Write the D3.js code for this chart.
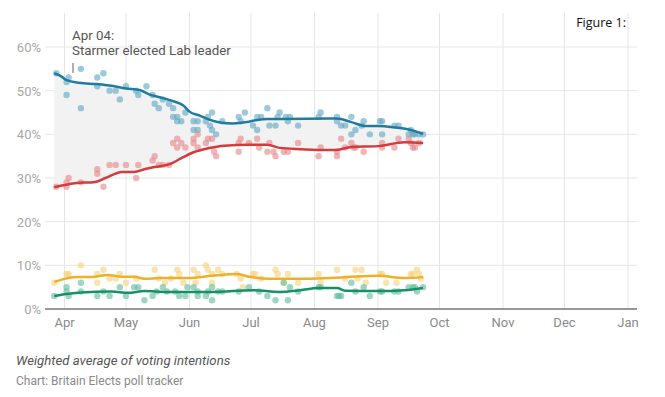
<!DOCTYPE html>
<html>
<head>
<meta charset="utf-8">
<script src="https://cdn.jsdelivr.net/npm/d3@7"></script>
<style>
  body { margin: 0; background: #fff; }
  svg { display: block; font-family: Roboto, "Noto Sans", sans-serif; }
</style>
</head>
<body>
<div id="chart"></div>
<script>
// poll results, [date, %]
var conPolls = [
  ["2020-03-28", 54], ["2020-04-02", 52], ["2020-04-03", 53], ["2020-04-02", 49],
  ["2020-04-09", 55], ["2020-04-09", 46], ["2020-04-17", 53], ["2020-04-17", 51],
  ["2020-04-20", 54], ["2020-04-23", 50], ["2020-04-26", 50], ["2020-04-28", 48],
  ["2020-05-01", 51], ["2020-05-06", 50], ["2020-05-07", 49], ["2020-05-11", 51],
  ["2020-05-14", 49], ["2020-05-15", 47], ["2020-05-17", 46], ["2020-05-19", 48],
  ["2020-05-22", 47], ["2020-05-24", 46], ["2020-05-24", 44], ["2020-05-26", 44],
  ["2020-05-26", 43], ["2020-05-28", 43], ["2020-05-30", 45], ["2020-06-03", 43],
  ["2020-06-05", 43], ["2020-06-03", 41], ["2020-06-05", 41], ["2020-06-09", 43],
  ["2020-06-10", 44], ["2020-06-12", 45], ["2020-06-11", 42], ["2020-06-12", 41],
  ["2020-06-14", 40], ["2020-06-17", 43], ["2020-06-25", 44], ["2020-06-26", 43],
  ["2020-06-28", 45], ["2020-07-02", 42], ["2020-07-04", 41], ["2020-07-04", 44],
  ["2020-07-06", 44], ["2020-07-09", 46], ["2020-07-10", 42], ["2020-07-13", 42],
  ["2020-07-14", 44], ["2020-07-15", 45], ["2020-07-18", 44], ["2020-07-19", 43],
  ["2020-07-20", 44], ["2020-07-24", 42], ["2020-08-04", 45], ["2020-08-03", 44],
  ["2020-08-12", 44], ["2020-08-12", 43], ["2020-08-14", 42], ["2020-08-16", 42],
  ["2020-08-19", 44], ["2020-08-19", 40], ["2020-08-21", 41], ["2020-08-24", 42],
  ["2020-08-25", 43], ["2020-08-28", 40], ["2020-09-02", 43], ["2020-09-03", 43],
  ["2020-09-03", 40], ["2020-09-09", 42], ["2020-09-11", 42], ["2020-09-16", 40],
  ["2020-09-17", 41], ["2020-09-18", 40], ["2020-09-19", 40], ["2020-09-21", 40],
  ["2020-09-23", 40]
];

var labPolls = [
  ["2020-03-28", 28], ["2020-04-02", 28], ["2020-04-02", 29], ["2020-04-03", 30],
  ["2020-04-09", 29], ["2020-04-17", 32], ["2020-04-17", 31], ["2020-04-20", 28],
  ["2020-04-23", 33], ["2020-04-26", 33], ["2020-05-01", 33], ["2020-05-06", 30],
  ["2020-05-07", 33], ["2020-05-14", 34], ["2020-05-15", 35], ["2020-05-17", 33],
  ["2020-05-19", 33], ["2020-05-22", 33], ["2020-05-24", 38], ["2020-05-26", 39],
  ["2020-05-28", 38], ["2020-05-26", 37], ["2020-05-30", 37], ["2020-06-03", 39],
  ["2020-06-03", 38], ["2020-06-05", 40], ["2020-06-05", 37], ["2020-06-09", 38],
  ["2020-06-10", 39], ["2020-06-12", 39], ["2020-06-13", 36], ["2020-06-14", 35],
  ["2020-06-25", 38], ["2020-06-26", 39], ["2020-06-25", 36], ["2020-06-30", 38],
  ["2020-07-04", 39], ["2020-07-05", 37], ["2020-07-09", 36], ["2020-07-10", 38],
  ["2020-07-12", 36], ["2020-07-13", 35], ["2020-07-17", 36], ["2020-07-19", 36],
  ["2020-07-24", 38], ["2020-08-03", 35], ["2020-08-04", 37], ["2020-08-12", 35],
  ["2020-08-12", 36], ["2020-08-14", 39], ["2020-08-16", 37], ["2020-08-19", 38],
  ["2020-08-20", 37], ["2020-08-21", 37], ["2020-08-25", 36], ["2020-09-03", 38],
  ["2020-09-03", 37], ["2020-09-09", 37], ["2020-09-11", 39], ["2020-09-16", 39],
  ["2020-09-17", 38], ["2020-09-18", 37], ["2020-09-19", 37], ["2020-09-21", 38]
];

var ldPolls = [
  ["2020-03-27", 6], ["2020-04-02", 8], ["2020-04-03", 8], ["2020-04-09", 10],
  ["2020-04-17", 8], ["2020-04-17", 6], ["2020-04-20", 9], ["2020-04-23", 7],
  ["2020-04-26", 7], ["2020-04-28", 8], ["2020-05-01", 6], ["2020-05-06", 7],
  ["2020-05-15", 9], ["2020-05-17", 7], ["2020-05-20", 6], ["2020-05-23", 7],
  ["2020-05-26", 9], ["2020-05-27", 8], ["2020-05-29", 6], ["2020-06-03", 9],
  ["2020-06-05", 8], ["2020-06-04", 6], ["2020-06-09", 10], ["2020-06-10", 9],
  ["2020-06-12", 8], ["2020-06-12", 6], ["2020-06-15", 9], ["2020-06-17", 8],
  ["2020-06-24", 8], ["2020-06-26", 7], ["2020-06-27", 5], ["2020-07-02", 8],
  ["2020-07-03", 8], ["2020-07-06", 7], ["2020-07-13", 9], ["2020-07-14", 8],
  ["2020-07-17", 6], ["2020-07-19", 8], ["2020-07-24", 6], ["2020-08-03", 8],
  ["2020-08-04", 6], ["2020-08-12", 9], ["2020-08-16", 7], ["2020-08-21", 9],
  ["2020-08-24", 9], ["2020-08-22", 7], ["2020-08-26", 6], ["2020-09-02", 8],
  ["2020-09-03", 8], ["2020-09-05", 6], ["2020-09-10", 6], ["2020-09-17", 8],
  ["2020-09-18", 8], ["2020-09-20", 9], ["2020-09-21", 8], ["2020-09-22", 7]
];

var grnPolls = [
  ["2020-03-27", 3], ["2020-04-02", 5], ["2020-04-02", 4], ["2020-04-03", 3],
  ["2020-04-09", 4], ["2020-04-09", 6], ["2020-04-17", 3], ["2020-04-20", 4],
  ["2020-04-23", 3], ["2020-04-28", 5], ["2020-05-01", 3], ["2020-05-05", 5],
  ["2020-05-07", 5], ["2020-05-10", 2], ["2020-05-14", 3], ["2020-05-16", 4],
  ["2020-05-19", 5], ["2020-05-21", 4], ["2020-05-25", 4], ["2020-05-27", 3],
  ["2020-05-30", 3], ["2020-05-31", 5], ["2020-06-03", 5], ["2020-06-05", 4],
  ["2020-06-05", 3], ["2020-06-09", 3], ["2020-06-10", 4], ["2020-06-12", 5],
  ["2020-06-12", 2], ["2020-06-15", 4], ["2020-06-17", 4], ["2020-06-25", 4],
  ["2020-06-30", 5], ["2020-07-05", 4], ["2020-07-09", 3], ["2020-07-13", 2],
  ["2020-07-17", 6], ["2020-07-19", 2], ["2020-07-20", 5], ["2020-07-24", 4],
  ["2020-08-03", 5], ["2020-08-04", 5], ["2020-08-12", 3], ["2020-08-13", 3],
  ["2020-08-14", 3], ["2020-08-19", 6], ["2020-08-21", 4], ["2020-08-25", 5],
  ["2020-08-28", 3], ["2020-09-02", 4], ["2020-09-03", 4], ["2020-09-09", 4],
  ["2020-09-11", 4], ["2020-09-16", 5], ["2020-09-18", 5], ["2020-09-19", 5],
  ["2020-09-20", 4], ["2020-09-23", 5]
];

// weighted averages (trend lines)
var conTrend = [
  ["2020-03-27", 54], ["2020-03-30", 53.4], ["2020-04-02", 52.4], ["2020-04-08", 51.8],
  ["2020-04-17", 51.5], ["2020-04-23", 51.2], ["2020-05-01", 50.5], ["2020-05-08", 50.1],
  ["2020-05-12", 49.2], ["2020-05-19", 48.3], ["2020-05-24", 47.6], ["2020-05-29", 46.6],
  ["2020-06-01", 45.2], ["2020-06-06", 44.3], ["2020-06-11", 43.3], ["2020-06-16", 42.7],
  ["2020-06-22", 42.5], ["2020-06-29", 42.8], ["2020-07-04", 43.3], ["2020-07-09", 43.5],
  ["2020-07-16", 43.5], ["2020-08-08", 43.6], ["2020-08-12", 43.6], ["2020-08-19", 42.8],
  ["2020-08-26", 41.9], ["2020-09-01", 41.9], ["2020-09-09", 41.6], ["2020-09-15", 41.2],
  ["2020-09-23", 40.1]
];

var labTrend = [
  ["2020-03-27", 27.9], ["2020-04-06", 28.8], ["2020-04-16", 29.1], ["2020-04-21", 30],
  ["2020-04-29", 31.4], ["2020-05-05", 31.4], ["2020-05-10", 32], ["2020-05-15", 32.5],
  ["2020-05-23", 33.3], ["2020-05-29", 34.8], ["2020-06-03", 35.9], ["2020-06-10", 36.8],
  ["2020-06-18", 37.4], ["2020-06-30", 37.6], ["2020-07-09", 37.6], ["2020-07-15", 36.9],
  ["2020-07-25", 36.6], ["2020-08-11", 36.4], ["2020-08-19", 37.1], ["2020-09-01", 37.3],
  ["2020-09-14", 38.2], ["2020-09-23", 38]
];

var ldTrend = [
  ["2020-03-27", 6.2], ["2020-04-01", 6.9], ["2020-04-07", 7.3], ["2020-04-16", 7.4],
  ["2020-04-22", 7.8], ["2020-04-29", 7.4], ["2020-05-05", 7.4], ["2020-05-10", 6.9],
  ["2020-05-18", 7.1], ["2020-06-01", 7.1], ["2020-06-12", 7.6], ["2020-06-24", 8],
  ["2020-06-30", 7.4], ["2020-07-10", 6.9], ["2020-07-25", 6.9], ["2020-08-08", 7.1],
  ["2020-08-17", 7.3], ["2020-09-01", 7.6], ["2020-09-14", 7.1], ["2020-09-23", 7.3]
];

var grnTrend = [
  ["2020-03-27", 3], ["2020-04-01", 3.4], ["2020-04-09", 3.8], ["2020-04-24", 4],
  ["2020-05-02", 3.7], ["2020-05-10", 4.1], ["2020-05-21", 3.9], ["2020-06-12", 3.9],
  ["2020-07-02", 4.3], ["2020-07-15", 3.9], ["2020-07-25", 4.3], ["2020-08-03", 4.8],
  ["2020-08-12", 4.8], ["2020-08-16", 4.2], ["2020-09-01", 4.1], ["2020-09-14", 4.3],
  ["2020-09-23", 4.8]
];

var yTicks = [0, 10, 20, 30, 40, 50, 60];

var parties = [
  { polls: conPolls, trend: conTrend, line: "#1f7c9e", dot: "#62a8c4" },
  { polls: labPolls, trend: labTrend, line: "#d63a3d", dot: "#e7888a" },
  { polls: ldPolls, trend: ldTrend, line: "#efb025", dot: "#f5d27c" },
  { polls: grnPolls, trend: grnTrend, line: "#16906a", dot: "#62bd9e" }
];

var outerWidth = 665,
    outerHeight = 397;

var parse = d3.timeParse("%Y-%m-%d");

var x = d3.scaleTime()
    .domain([new Date(2020, 3, 1), new Date(2021, 0, 1)])
    .range([64.5, 628]);

var y = d3.scaleLinear()
    .domain([0, 60])
    .range([309, 47]);

var svg = d3.select("#chart").append("svg")
    .attr("width", outerWidth)
    .attr("height", outerHeight);

// grid
svg.append("g")
  .selectAll("line")
  .data(yTicks.slice(1))
  .enter().append("line")
    .attr("x1", 45).attr("x2", 637)
    .attr("y1", d => y(d)).attr("y2", d => y(d))
    .attr("stroke", "#e6e6e6");

var months = x.ticks(d3.timeMonth.every(1));

svg.append("g")
  .selectAll("line")
  .data(months)
  .enter().append("line")
    .attr("x1", d => x(d)).attr("x2", d => x(d))
    .attr("y1", 13).attr("y2", y(0))
    .attr("stroke", "#e6e6e6");

// shaded gap between Con and Lab
var gapLine = d3.line().x(d => x(parse(d[0]))).y(d => y(d[1]));
var gap = conTrend.concat(labTrend.slice().reverse());
svg.append("path")
    .attr("d", gapLine(gap) + "Z")
    .attr("fill", "#f2f2f2");

// poll dots
parties.forEach(p => {
  svg.append("g")
    .selectAll("circle")
    .data(p.polls)
    .enter().append("circle")
      .attr("cx", d => x(parse(d[0])))
      .attr("cy", d => y(d[1]))
      .attr("r", 3.2)
      .attr("fill", p.dot)
      .attr("fill-opacity", 0.62);
});

// trend lines
var trendLine = d3.line()
    .x(d => x(parse(d[0])))
    .y(d => y(d[1]))
    .curve(d3.curveMonotoneX);

parties.forEach(p => {
  svg.append("path")
      .attr("d", trendLine(p.trend))
      .attr("fill", "none")
      .attr("stroke", p.line)
      .attr("stroke-width", 2.5);
});

// y axis labels
svg.append("g")
  .selectAll("text")
  .data(yTicks)
  .enter().append("text")
    .attr("x", 41)
    .attr("y", d => y(d) + 5)
    .attr("text-anchor", "end")
    .attr("font-size", "13px")
    .attr("fill", "#a8a8a8")
    .text(d => d + "%");

// x axis
svg.append("line")
    .attr("x1", 45).attr("x2", 637)
    .attr("y1", y(0)).attr("y2", y(0))
    .attr("stroke", "#333")
    .attr("stroke-width", 1.2);

svg.append("g")
  .selectAll("text")
  .data(months)
  .enter().append("text")
    .attr("x", d => x(d))
    .attr("y", 327)
    .attr("text-anchor", "middle")
    .attr("font-size", "13px")
    .attr("fill", "#8a8a8a")
    .text(d3.timeFormat("%b"));

// annotation
svg.append("text")
    .attr("x", 72).attr("y", 40)
    .attr("font-size", "13.3px")
    .attr("fill", "#555")
    .text("Apr 04:");
svg.append("text")
    .attr("x", 72).attr("y", 55)
    .attr("font-size", "13.3px")
    .attr("fill", "#555")
    .text("Starmer elected Lab leader");
svg.append("line")
    .attr("x1", 73).attr("x2", 73)
    .attr("y1", 63).attr("y2", 73)
    .attr("stroke", "#6a5a6a");

svg.append("text")
    .attr("x", 626).attr("y", 27)
    .attr("text-anchor", "end")
    .attr("font-family", "'Open Sans', sans-serif")
    .attr("font-size", "12.5px")
    .attr("fill", "#111")
    .text("Figure 1:");

// footer
svg.append("text")
    .attr("x", 16).attr("y", 365)
    .attr("font-size", "13.2px")
    .attr("font-style", "italic")
    .attr("fill", "#555")
    .text("Weighted average of voting intentions");
svg.append("text")
    .attr("x", 16).attr("y", 385)
    .attr("font-size", "12px")
    .attr("fill", "#8a8a8a")
    .text("Chart: Britain Elects poll tracker");
</script>
</body>
</html>
